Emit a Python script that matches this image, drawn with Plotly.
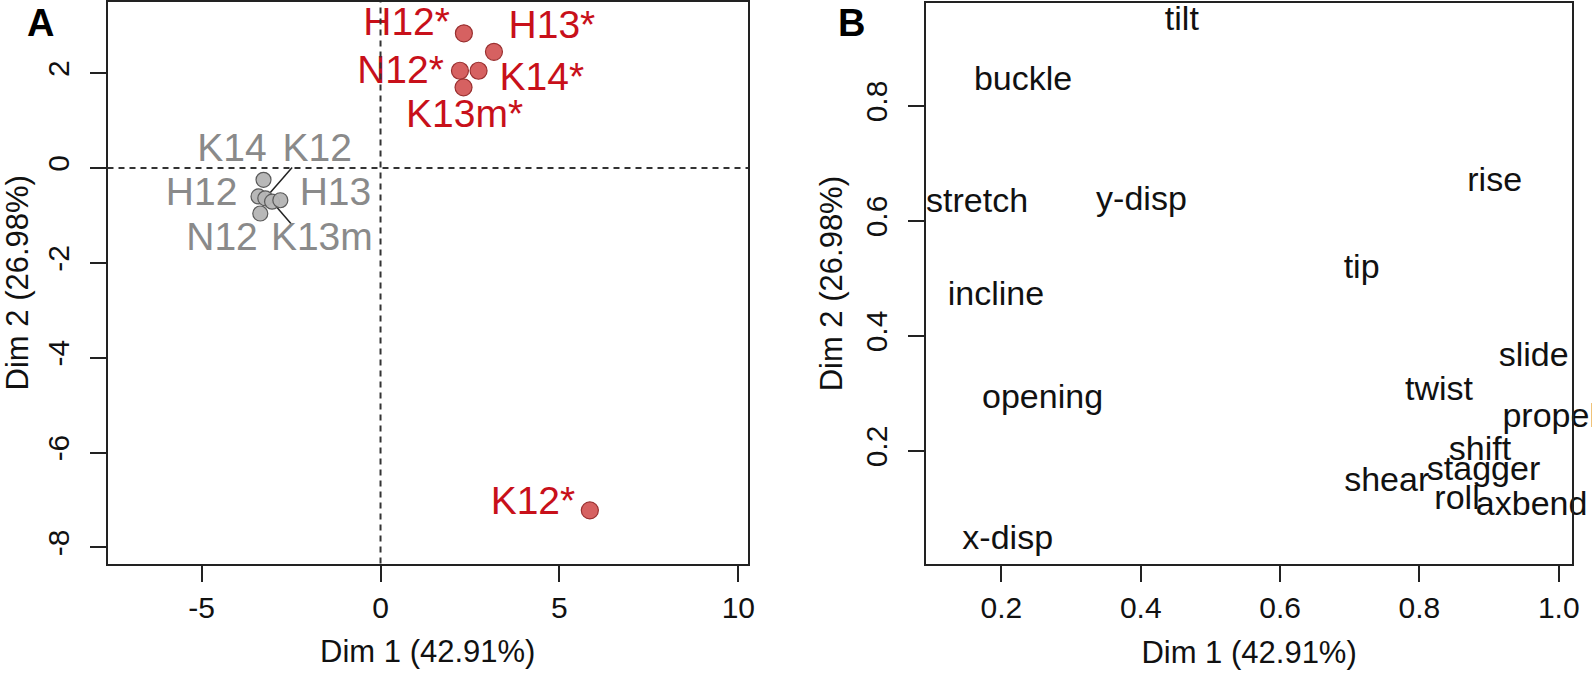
import plotly.graph_objects as go

# ---- panel A : individuals ----
grp_names = ["K14", "H12", "K12", "K13m", "H13", "N12"]
grp_x = [-3.27, -3.41, -3.22, -3.03, -2.80, -3.36]
grp_y = [-0.25, -0.60, -0.64, -0.71, -0.68, -0.96]
grp_lab_x = [-4.15, -5.00, -1.77, -1.64, -1.26, -4.43]
grp_lab_y = [0.35, -0.57, 0.35, -1.52, -0.57, -1.52]

sig_names = ["H12*", "H13*", "N12*", "K14*", "K13m*", "K12*"]
sig_x = [2.33, 3.17, 2.22, 2.74, 2.32, 5.85]
sig_y = [2.84, 2.45, 2.05, 2.05, 1.70, -7.22]
sig_lab_x = [0.73, 4.79, 0.56, 4.51, 2.35, 4.26]
sig_lab_y = [3.00, 2.95, 2.00, 1.86, 1.08, -7.09]

# repel segments (point -> label side end)
seg_names = ["K12", "K13m"]
seg_end_x = [-2.47, -2.47]
seg_end_y = [0.01, -1.20]

a_xticks = [-5, 0, 5, 10]
a_yticks = [-8, -6, -4, -2, 0, 2]

# ---- panel B : variables ----
var_names = ["tilt", "buckle", "rise", "stretch", "y-disp", "tip", "incline",
             "slide", "twist", "opening", "propel", "shift", "stagger",
             "shear", "roll", "axbend", "x-disp"]
var_x = [0.459, 0.231, 0.908, 0.165, 0.401, 0.717, 0.192,
         0.964, 0.828, 0.259, 0.987, 0.887, 0.892,
         0.753, 0.854, 0.961, 0.209]
var_y = [0.947, 0.842, 0.667, 0.631, 0.633, 0.515, 0.469,
         0.363, 0.303, 0.290, 0.257, 0.199, 0.164,
         0.146, 0.114, 0.103, 0.044]

b_xticks = [0.2, 0.4, 0.6, 0.8, 1.0]
b_yticks = [0.2, 0.4, 0.6, 0.8]

FONT = "Liberation Sans, Arial, sans-serif"
RED_TXT = "#c8101a"
GRAY_TXT = "#8a8a8a"

fig = go.Figure()

# segments
for n, ex, ey in zip(seg_names, seg_end_x, seg_end_y):
    i = grp_names.index(n)
    fig.add_trace(go.Scatter(x=[grp_x[i], ex], y=[grp_y[i], ey], mode="lines",
                             line=dict(color="#222222", width=1.5),
                             xaxis="x", yaxis="y", showlegend=False, hoverinfo="skip"))

fig.add_trace(go.Scatter(x=grp_x, y=grp_y, mode="markers",
                         marker=dict(size=15, color="rgba(180,180,180,0.95)",
                                     line=dict(color="#5a5a5a", width=1.2)),
                         xaxis="x", yaxis="y", showlegend=False))
fig.add_trace(go.Scatter(x=sig_x, y=sig_y, mode="markers",
                         marker=dict(size=17, color="rgba(212,88,88,0.95)",
                                     line=dict(color="#9a3030", width=1.2)),
                         xaxis="x", yaxis="y", showlegend=False))
fig.add_trace(go.Scatter(x=grp_lab_x, y=grp_lab_y, mode="text", text=grp_names,
                         textposition="middle center", cliponaxis=False,
                         textfont=dict(family=FONT, size=39, color=GRAY_TXT),
                         xaxis="x", yaxis="y", showlegend=False))
fig.add_trace(go.Scatter(x=sig_lab_x, y=sig_lab_y, mode="text", text=sig_names,
                         textposition="middle center", cliponaxis=False,
                         textfont=dict(family=FONT, size=39, color=RED_TXT),
                         xaxis="x", yaxis="y", showlegend=False))

fig.add_trace(go.Scatter(x=var_x, y=var_y, mode="text", text=var_names,
                         textposition="middle center", cliponaxis=False,
                         textfont=dict(family=FONT, size=34, color="#111111"),
                         xaxis="x2", yaxis="y2", showlegend=False))

# dashed reference lines in A
fig.add_shape(type="line", xref="x", yref="y domain", x0=0, x1=0, y0=0, y1=1,
              line=dict(color="#333333", width=2, dash="6px,5px"))
fig.add_shape(type="line", xref="x domain", yref="y", x0=0, x1=1, y0=0, y1=0,
              line=dict(color="#333333", width=2, dash="6px,5px"))

W, H = 1592, 678
axis_common = dict(showline=True, mirror=True, linecolor="#222222", linewidth=2,
                   ticks="outside", ticklen=16, tickwidth=2, tickcolor="#222222",
                   showgrid=False, zeroline=False, automargin=False,
                   tickfont=dict(family=FONT, size=30, color="#111111"),
                   title_font=dict(family=FONT, size=31, color="#111111"))

fig.update_layout(
    width=W, height=H,
    margin=dict(l=0, r=0, t=0, b=0, autoexpand=False),
    paper_bgcolor="white", plot_bgcolor="white",
    xaxis=dict(axis_common, domain=[107.5 / W, 748 / W], range=[-7.63, 10.27],
               tickvals=a_xticks, ticktext=[str(v) for v in a_xticks],
               title_text="Dim 1 (42.91%)", title_standoff=18, anchor="y"),
    yaxis=dict(axis_common, domain=[(H - 563.5) / H, (H - 2) / H], range=[-8.34, 3.5],
               tickvals=a_yticks, ticktext=[str(v) for v in a_yticks], tickangle=-90,
               ticklabelstandoff=9,
               title_text="Dim 2 (26.98%)", title_standoff=8, anchor="x"),
    xaxis2=dict(axis_common, domain=[926.2 / W, 1572 / W], range=[0.092, 1.019],
                tickvals=b_xticks, ticktext=["%.1f" % v for v in b_xticks],
                title_text="Dim 1 (42.91%)", title_standoff=18, anchor="y2"),
    yaxis2=dict(axis_common, domain=[(H - 564.3) / H, (H - 3) / H], range=[0.003, 0.979],
                tickvals=b_yticks, ticktext=["%.1f" % v for v in b_yticks], tickangle=-90,
                ticklabelstandoff=9,
                title_text="Dim 2 (26.98%)", title_standoff=8, anchor="x2"),
)

fig.add_annotation(x=40 / W, y=1 - 23 / H, xref="paper", yref="paper", text="<b>A</b>",
                   xanchor="center", yanchor="middle", showarrow=False,
                   font=dict(family=FONT, size=38, color="black"))
fig.add_annotation(x=851 / W, y=1 - 23 / H, xref="paper", yref="paper", text="<b>B</b>",
                   xanchor="center", yanchor="middle", showarrow=False,
                   font=dict(family=FONT, size=38, color="black"))

# body margin off so the figure sits at the window's top-left corner
fig.write_html("out.html", config={"displayModeBar": False},
               post_script="document.body.style.margin='0';")
